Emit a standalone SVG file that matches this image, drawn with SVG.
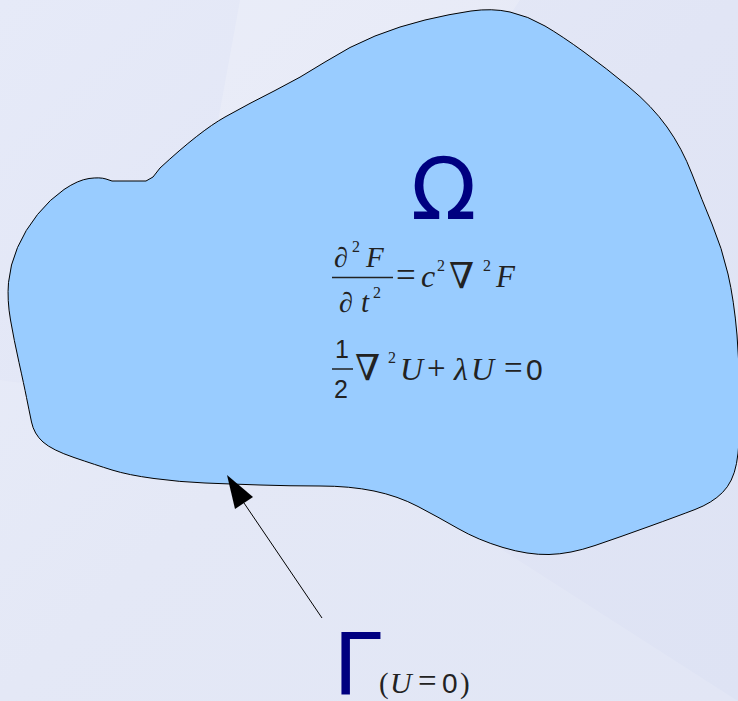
<svg xmlns="http://www.w3.org/2000/svg" width="738" height="701" viewBox="0 0 738 701">
<defs>
<linearGradient id="bg" x1="0" y1="0" x2="1" y2="1">
<stop offset="0" stop-color="#e6eaf8"/>
<stop offset="0.5" stop-color="#e1e5f5"/>
<stop offset="1" stop-color="#dee3f4"/>
</linearGradient>
<style>
.mi{font-family:"Liberation Serif","DejaVu Serif",serif;font-style:italic;fill:#222}
.mr{font-family:"Liberation Serif","DejaVu Serif",serif;fill:#222}
.nb{font-family:"DejaVu Serif",serif;fill:#222}
.ms{font-family:"Liberation Sans","DejaVu Sans",sans-serif;fill:#222}
.big{font-family:"DejaVu Sans","Liberation Sans",sans-serif;fill:#000080}
.bar{stroke:#222;stroke-width:1.5}
</style>
</defs>
<rect width="738" height="701" fill="url(#bg)"/>
<polygon points="240,0 520,0 300,330 180,330" fill="#ffffff" opacity="0.18"/>
<polygon points="0,380 300,420 738,701 0,701" fill="#ffffff" opacity="0.12"/>

<g id="domain">
<path d="M146,181 L153,177 L160,168 Q200,131 225,117 Q250,103 275,90.5 Q300,78 325,62 Q350,46 375,36 Q400,26 425,20 Q450,14 471,11 Q492,8 510,12 Q528,16 545,26 Q562,36 584,52 Q606,68 629,87 Q652,106 667,127 Q682,148 692,174 Q702,200 712,224 Q722,248 728,274 Q734,300 737,335 Q740,370 740,407.5 Q740,445 736.5,463.5 Q733,482 722.5,492.5 Q712,503 695,509.5 Q678,516 649,526.5 Q620,537 595,545.5 Q570,554 549,554.5 Q528,555 503,547.5 Q478,540 458,528.5 Q438,517 418,506.5 Q398,496 374,491 Q350,486 320,486 Q290,486 260,485 Q230,484 205,483 Q180,482 154,478.5 Q128,475 112,470 Q96,465 74,457.5 Q52,450 43,442 Q34,434 31.5,422 Q29,410 26.5,397.5 Q24,385 19,362.5 Q14,340 10.5,320 Q7,300 8.5,282.5 Q10,265 17.5,247.5 Q25,230 37.5,214.5 Q50,199 64,189.5 Q78,180 89,178.5 Q100,177 106,179 L112,181 Z" fill="#99ccff" stroke="#000" stroke-width="1"/>
</g>

<g id="omega-label">
<text class="big" x="443.5" y="219" font-size="86" text-anchor="middle">Ω</text>
</g>

<g id="wave-equation">
<text class="mr" x="334" y="267" font-size="28">∂</text>
<text class="mr" x="352" y="252" font-size="16">2</text>
<text class="mi" x="366" y="267" font-size="29">F</text>
<line class="bar" x1="332" y1="277.5" x2="393" y2="277.5"/>
<text class="mr" x="339" y="312" font-size="28">∂</text>
<text class="mi" x="361" y="312" font-size="29">t</text>
<text class="mr" x="373" y="298" font-size="16">2</text>
<text class="mr" x="396" y="287" font-size="35">=</text>
<text class="mi" x="421" y="287" font-size="32">c</text>
<text class="mr" x="437" y="271" font-size="16">2</text>
<text class="nb" x="449" y="288" font-size="36">∇</text>
<text class="mr" x="483" y="271" font-size="16">2</text>
<text class="mi" x="496" y="287" font-size="31">F</text>
</g>

<g id="helmholtz-equation">
<text class="ms" x="335" y="358" font-size="25">1</text>
<line class="bar" x1="332" y1="369" x2="353" y2="369"/>
<text class="ms" x="334" y="398" font-size="25">2</text>
<text class="nb" x="355" y="380" font-size="36">∇</text>
<text class="mr" x="388" y="363" font-size="16">2</text>
<text class="mi" x="400" y="380" font-size="32">U</text>
<text class="mr" x="427" y="379" font-size="33">+</text>
<text class="mi" x="454" y="380" font-size="32">λ</text>
<text class="mi" x="471" y="380" font-size="32">U</text>
<text class="mr" x="504" y="379" font-size="33">=</text>
<text class="ms" x="526" y="380" font-size="30">0</text>
</g>

<g id="connectors">
<line x1="322" y1="618" x2="244" y2="503" stroke="#000" stroke-width="1"/>
<polygon points="227,475 235,509 253,497" fill="#000"/>
</g>

<g id="gamma-label">
<text class="big" x="333" y="694" font-size="86">Γ</text>
<text class="mr" x="379" y="693" font-size="29">(</text>
<text class="mi" x="390" y="693" font-size="30">U</text>
<text class="mr" x="418" y="692" font-size="33">=</text>
<text class="ms" x="442" y="693" font-size="28">0</text>
<text class="mr" x="460" y="693" font-size="29">)</text>
</g>
</svg>
